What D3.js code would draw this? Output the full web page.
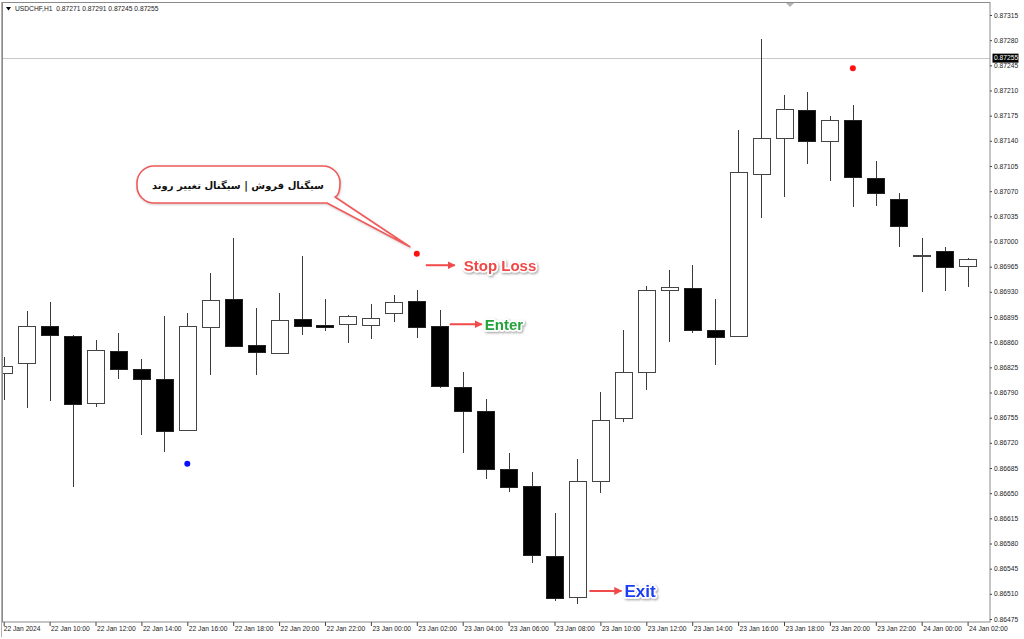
<!DOCTYPE html>
<html><head><meta charset="utf-8">
<script src="https://cdn.jsdelivr.net/npm/d3@7"></script>
<style>
html,body{margin:0;padding:0;background:#fff;}
svg{display:block;}
</style></head><body>
<svg id="c" width="1024" height="639"></svg>
<script>
// ---------------- DATA ----------------
const symbolTitle = "USDCHF,H1";
const headerValues = ["0.87271", "0.87291", "0.87245", "0.87255"];

const opens  = [0.86817,0.86830,0.86883,0.86869,0.86775,0.86848,0.86823,0.86809,0.86738,0.86882,0.86920,0.86856,0.86845,0.86892,0.86884,0.86885,0.86884,0.86901,0.86917,0.86882,0.86798,0.86764,0.86684,0.86660,0.86563,0.86506,0.86667,0.86755,0.86819,0.86933,0.86935,0.86877,0.86869,0.87094,0.87143,0.87183,0.87140,0.87169,0.87088,0.87059,0.86981,0.86987,0.86966];
const highs  = [0.86839,0.86903,0.86916,0.86870,0.86863,0.86873,0.86837,0.86896,0.86901,0.86956,0.87005,0.86908,0.86928,0.86980,0.86920,0.86898,0.86913,0.86926,0.86933,0.86905,0.86819,0.86781,0.86706,0.86680,0.86622,0.86698,0.86791,0.86877,0.86938,0.86960,0.86967,0.86920,0.87155,0.87282,0.87204,0.87208,0.87175,0.87190,0.87112,0.87067,0.87005,0.86992,0.86977];
const lows   = [0.86780,0.86768,0.86778,0.86659,0.86770,0.86809,0.86731,0.86707,0.86738,0.86814,0.86853,0.86814,0.86845,0.86870,0.86876,0.86859,0.86864,0.86888,0.86866,0.86796,0.86706,0.86670,0.86652,0.86553,0.86500,0.86496,0.86650,0.86749,0.86794,0.86860,0.86873,0.86828,0.86869,0.87033,0.87062,0.87108,0.87084,0.87048,0.87049,0.86992,0.86930,0.86931,0.86937];
const closes = [0.86827,0.86882,0.86870,0.86774,0.86849,0.86823,0.86809,0.86736,0.86882,0.86919,0.86855,0.86846,0.86891,0.86882,0.86881,0.86896,0.86894,0.86916,0.86881,0.86798,0.86764,0.86684,0.86659,0.86564,0.86504,0.86667,0.86752,0.86819,0.86933,0.86937,0.86877,0.86867,0.87097,0.87144,0.87184,0.87140,0.87169,0.87090,0.87067,0.87022,0.86981,0.86965,0.86976];

const tickBars = [0,2,4,6,8,10,12,14,16,18,20,22,24,26,28,30,32,34,36,38,40,42];
const timeLabels = ["22 Jan 2024","22 Jan 10:00","22 Jan 12:00","22 Jan 14:00","22 Jan 16:00","22 Jan 18:00","22 Jan 20:00","22 Jan 22:00","23 Jan 00:00","23 Jan 02:00","23 Jan 04:00","23 Jan 06:00","23 Jan 08:00","23 Jan 10:00","23 Jan 12:00","23 Jan 14:00","23 Jan 16:00","23 Jan 18:00","23 Jan 20:00","23 Jan 22:00","24 Jan 00:00","24 Jan 02:00"];

const priceTicks = [0.87315,0.87280,0.87245,0.87210,0.87175,0.87140,0.87105,0.87070,0.87035,0.87000,0.86965,0.86930,0.86895,0.86860,0.86825,0.86790,0.86755,0.86720,0.86685,0.86650,0.86615,0.86580,0.86545,0.86510,0.86475];
const bidPrice = 0.87255;

const dotBars   = [8, 18, 37];
const dotPrices = [0.86691, 0.86983, 0.87241];
const dotKinds  = ["buy", "sell", "sell"];

const noteTexts  = ["Stop Loss", "Enter", "Exit"];
const noteBars   = [18, 19, 25];
const notePrices = [0.86967, 0.86885, 0.86514];

const calloutText = "سیگنال فروش | سیگنال تغییر روند";

// ---------------- LAYOUT / STYLE ----------------
const plot = {left: 3, top: 3, right: 990, bottom: 622};
const bodyW = 17;
const dotColor = {buy: "#0a10ff", sell: "#ff1010"};
const noteStyle = [
  {color: "#f24646", size: 15, dx: 9,  len: 29, gap: 9},
  {color: "#23a23a", size: 15, dx: 10, len: 32, gap: 3},
  {color: "#1a3df2", size: 17, dx: 12, len: 32, gap: 3}
];
const arrowColor = "#f04a4a";
const smallFont = "6.7px 'Liberation Sans', Arial, sans-serif";

const svg = d3.select("#c");
const x = d3.scaleLinear().domain([0, 42]).range([3.7, 967.6]);
const y = d3.scaleLinear().domain([0.86475, 0.87315]).range([619, 15]);

const defs = svg.append("defs");
defs.append("clipPath").attr("id", "plotclip").append("rect")
  .attr("x", plot.left).attr("y", plot.top)
  .attr("width", plot.right - plot.left).attr("height", plot.bottom - plot.top);
const f = defs.append("filter").attr("id", "halo").attr("x", "-20%").attr("y", "-40%").attr("width", "140%").attr("height", "180%");
f.append("feDropShadow").attr("dx", 1).attr("dy", 1.2).attr("stdDeviation", 1.2).attr("flood-color", "#777").attr("flood-opacity", 0.7);
const f2 = defs.append("filter").attr("id", "bshadow").attr("x", "-10%").attr("y", "-20%").attr("width", "120%").attr("height", "150%");
f2.append("feDropShadow").attr("dx", 0.5).attr("dy", 1).attr("stdDeviation", 1).attr("flood-color", "#999").attr("flood-opacity", 0.5);
defs.append("marker").attr("id", "arr").attr("viewBox", "0 0 10 10").attr("refX", 9).attr("refY", 5)
  .attr("markerWidth", 4).attr("markerHeight", 4).attr("orient", "auto")
  .append("path").attr("d", "M0,0 L10,5 L0,10 Z").attr("fill", arrowColor);

// background
svg.append("rect").attr("width", 1024).attr("height", 639).attr("fill", "#fff");

// bid line
svg.append("line").attr("x1", plot.left).attr("x2", plot.right)
  .attr("y1", Math.round(y(bidPrice)) + 0.5).attr("y2", Math.round(y(bidPrice)) + 0.5)
  .attr("stroke", "#c8c8c8").attr("stroke-width", 1);

// candles
const bars = d3.range(opens.length);
const g = svg.append("g").attr("clip-path", "url(#plotclip)");
g.selectAll("line.wick").data(bars).join("line").attr("class", "wick")
  .attr("x1", i => Math.round(x(i)) + 0.5).attr("x2", i => Math.round(x(i)) + 0.5)
  .attr("y1", i => y(highs[i])).attr("y2", i => y(lows[i]))
  .attr("stroke", "#3a3a3a").attr("stroke-width", 1).attr("shape-rendering", "crispEdges");
g.selectAll("rect.body").data(bars).join("rect").attr("class", "body")
  .attr("x", i => Math.round(x(i) - bodyW / 2) + 0.5)
  .attr("width", bodyW)
  .attr("y", i => Math.round(y(Math.max(opens[i], closes[i]))) + 0.5)
  .attr("height", i => Math.max(1, Math.round(y(Math.min(opens[i], closes[i])) - y(Math.max(opens[i], closes[i])))))
  .attr("fill", i => closes[i] >= opens[i] ? "#fff" : "#000")
  .attr("stroke", i => closes[i] >= opens[i] ? "#444" : "#222")
  .attr("stroke-width", 1).attr("shape-rendering", "crispEdges");

// signal dots
g.selectAll("circle.sig").data(dotBars).join("circle").attr("class", "sig")
  .attr("cx", (b) => x(b)).attr("cy", (b, k) => y(dotPrices[k]))
  .attr("r", 3).attr("fill", (b, k) => dotColor[dotKinds[k]]);

// frame
svg.append("rect").attr("x", plot.left - 0.5).attr("y", plot.top - 0.5)
  .attr("width", plot.right - plot.left + 0.5).attr("height", plot.bottom - plot.top + 0.5)
  .attr("fill", "none").attr("stroke", "#8a8a8a").attr("stroke-width", 1);
svg.append("line").attr("x1", 1.5).attr("x2", 1.5).attr("y1", 2).attr("y2", 637)
  .attr("stroke", "#b0b0b0");

// chart shift marker
svg.append("path").attr("d", "M786,3 L794,3 L790,7 Z").attr("fill", "#b4b4b4");

// price axis
const ya = svg.append("g").attr("transform", `translate(${plot.right},0)`)
  .call(d3.axisRight(y).tickValues(priceTicks).tickSize(2).tickPadding(2).tickFormat(d3.format(".5f")));
ya.select(".domain").remove();
ya.selectAll("line").attr("stroke", "#444");
ya.selectAll("text").style("font", smallFont).attr("fill", "#222");

// bid label
const by = y(bidPrice);
svg.append("rect").attr("x", 992.5).attr("y", by - 4.5).attr("width", 26).attr("height", 9).attr("fill", "#000");
svg.append("text").attr("x", 994).attr("y", by).attr("dy", "0.35em").style("font", smallFont)
  .attr("fill", "#fff").text(d3.format(".5f")(bidPrice));

// time axis
const xa = svg.append("g").attr("transform", `translate(0,${plot.bottom})`)
  .call(d3.axisBottom(x).tickValues(tickBars).tickSize(4).tickFormat((d, i) => timeLabels[i]));
xa.select(".domain").remove();
xa.selectAll("line").attr("stroke", "#444");
xa.selectAll("text").style("font", smallFont).attr("fill", "#222")
  .attr("text-anchor", "start").attr("x", (d, i) => i === 0 ? -0.5 : 1).attr("y", 7).attr("dy", "0.35em");

// header
svg.append("path").attr("d", "M6,7 L11,7 L8.5,10.5 Z").attr("fill", "#000");
svg.append("text").attr("x", 15).attr("y", 9).attr("dy", "0.35em").style("font", smallFont)
  .attr("fill", "#222").attr("xml:space", "preserve")
  .text(symbolTitle + "  " + headerValues.join(" "));

// arrows + labels
const ng = svg.append("g");
noteTexts.forEach((t, k) => {
  const s = noteStyle[k];
  const x0 = x(noteBars[k]) + s.dx, yy = y(notePrices[k]);
  ng.append("line").attr("x1", x0).attr("x2", x0 + s.len).attr("y1", yy).attr("y2", yy)
    .attr("stroke", arrowColor).attr("stroke-width", 2).attr("marker-end", "url(#arr)");
  ng.append("text").attr("x", x0 + s.len + s.gap).attr("y", yy).attr("dy", "0.36em")
    .style("font", `bold ${s.size}px 'Liberation Sans', Arial, sans-serif`)
    .attr("fill", s.color).attr("stroke", "#fff").attr("stroke-width", 3.5)
    .attr("stroke-linejoin", "round").attr("paint-order", "stroke").attr("filter", "url(#halo)")
    .text(t);
});

// callout bubble pointing to the sell-signal dot
const tipX = x(dotBars[1]) - 7, tipY = y(dotPrices[1]) - 7;
const bx0 = 137, bx1 = 340, by0 = 166, by1 = 203, r = 17;
const bubble = `M${bx0 + r},${by0} L${bx1 - r},${by0} A${r},${r} 0 0 1 ${bx1},${by0 + r}
  Q${bx1},${by1 - 8} ${bx1 - 5},${by1 - 6} L${tipX},${tipY} L${bx1 - 13},${by1}
  L${bx0 + r},${by1} A${r},${r} 0 0 1 ${bx0},${by1 - r} L${bx0},${by0 + r} A${r},${r} 0 0 1 ${bx0 + r},${by0} Z`;
svg.append("path").attr("d", bubble).attr("fill", "#fff").attr("stroke", "#f05a5a")
  .attr("stroke-width", 1.6).attr("stroke-linejoin", "round").attr("filter", "url(#bshadow)");
const ct = svg.append("text").attr("x", 238).attr("y", 185).attr("dy", "0.38em")
  .attr("text-anchor", "middle").attr("direction", "rtl")
  .style("font-family", "'DejaVu Sans', sans-serif").style("font-weight", "bold").style("font-size", "14px")
  .attr("fill", "#111").text(calloutText);
const len = ct.node().getComputedTextLength();
if (len > 172) ct.style("font-size", (14 * 172 / len).toFixed(2) + "px");
</script>
</body></html>
